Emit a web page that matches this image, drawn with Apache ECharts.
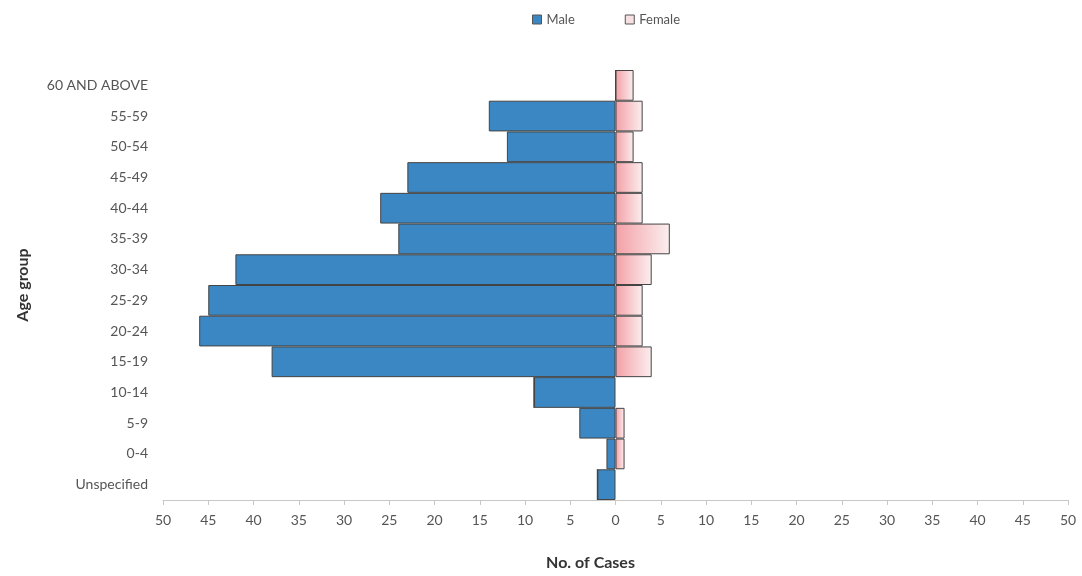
<!DOCTYPE html>
<html>
<head>
<meta charset="utf-8">
<script src="https://cdn.jsdelivr.net/npm/echarts@6/dist/echarts.min.js"></script>
<style>html,body{margin:0;padding:0;background:#fff;}#c{width:1082px;height:576px;}</style>
</head>
<body>
<div id="c"></div>
<script>
var categories = ['Unspecified','0-4','5-9','10-14','15-19','20-24','25-29','30-34','35-39','40-44','45-49','50-54','55-59','60 AND ABOVE'];
var maleValues = [2,1,4,9,38,46,45,42,24,26,23,12,14,0];
var femaleValues = [0,1,1,0,4,3,3,4,6,3,3,2,3,2];
var xTicks = {min:-50, max:50, interval:5};

var chart = echarts.init(document.getElementById('c'));
var font = 'Lato, "Open Sans", sans-serif';
chart.setOption({
  backgroundColor:'#fff',
  animation:false,
  legend:{
    top:8, left:527, itemWidth:9, itemHeight:9, itemGap:50,
    textStyle:{fontFamily:font, fontSize:13, color:'#555'},
    data:[
      {name:'Male', icon:'rect', itemStyle:{color:'#3b87c3', borderColor:'#555', borderWidth:1}},
      {name:'Female', icon:'rect', itemStyle:{color:'#f7dfe2', borderColor:'#555', borderWidth:1}}
    ]
  },
  grid:{left:163, right:14, top:70, bottom:76},
  xAxis:{
    type:'value', min:xTicks.min, max:xTicks.max, interval:xTicks.interval,
    name:'No. of Cases', nameLocation:'middle', nameGap:55,
    nameTextStyle:{fontFamily:font, fontSize:16, fontWeight:'bold', color:'#333', padding:[0,50,0,0]},
    axisLine:{show:true, lineStyle:{color:'#c8c8c8'}},
    axisTick:{show:true, length:5, lineStyle:{color:'#c8c8c8'}},
    splitLine:{show:false},
    axisLabel:{fontFamily:font, fontSize:14, color:'#555', margin:13, formatter:function(v){return Math.abs(v);}}
  },
  yAxis:{
    type:'category', data:categories,
    name:'Age group', nameLocation:'middle', nameGap:132, nameRotate:90,
    nameTextStyle:{fontFamily:font, fontSize:16, fontWeight:'bold', color:'#333'},
    axisLine:{show:false}, axisTick:{show:false},
    axisLabel:{fontFamily:font, fontSize:14, color:'#555', margin:15}
  },
  series:[
    {name:'Male', type:'bar', stack:'a', barWidth:'100%',
     data:maleValues.map(function(v){return -v;}),
     itemStyle:{color:'#3b87c3', borderColor:'#444', borderWidth:1}},
    {name:'Female', type:'bar', stack:'a', barWidth:'100%',
     data:femaleValues,
     itemStyle:{
       color:new echarts.graphic.LinearGradient(0,0,1,0,[{offset:0,color:'#f3a0a6'},{offset:1,color:'#fbeff0'}]),
       borderColor:'#444', borderWidth:1}}
  ]
});
</script>
</body>
</html>
